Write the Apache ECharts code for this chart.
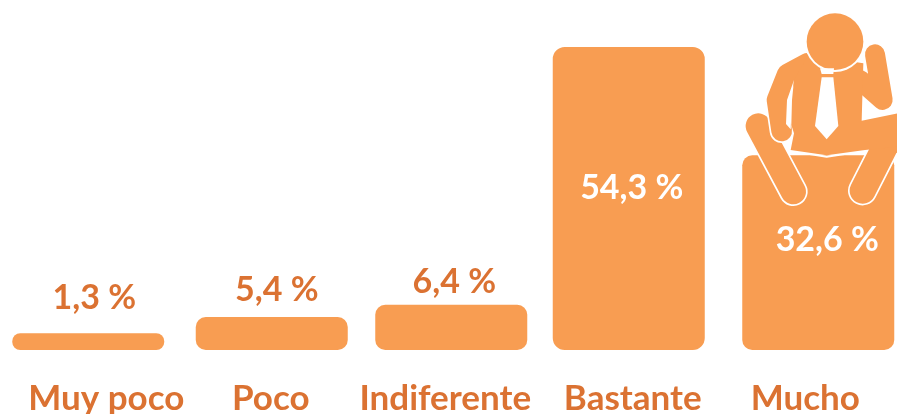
<!DOCTYPE html>
<html><head><meta charset="utf-8">
<style>html,body{margin:0;background:#fff}#c{width:897px;height:414px}</style>
<script src="https://cdn.jsdelivr.net/npm/echarts@6/dist/echarts.min.js"></script></head>
<body><div id="c"></div>
<script>
const categories = ['Muy poco','Poco','Indiferente','Bastante','Mucho'];
const percentages = [1.3,5.4,6.4,54.3,32.6];
// heights of the drawn bars (the original is not to scale)
const barLevels = [3.0,5.9,8.1,54.3,34.9];

// layout only
const barNudge = [0,1,-2,-7,0];
const barRadius = [8,10,10,12,10];
const labelDx = [6,5,3,3,9];
const labelDy = [-35,-27,-23,141,85];
const labelColor = ['#DB7232','#DB7232','#DB7232','#fff','#fff'];
const axisPad = [[0,0,0,36],[0,0,0,0],[0,16,0,0],[0,6,0,0],[0,26,0,0]];
const ORANGE='#F89D52', TEXT='#DB7232';

const chart = echarts.init(document.getElementById('c'),null,{renderer:'canvas'});
const rich={}; axisPad.forEach((p,i)=>{rich['a'+i]={padding:p,color:TEXT,fontFamily:'Lato',fontWeight:'bold',fontSize:35}});

const man = ()=>{
  const stroke=(pts,w,color,z)=>({type:'polyline',z,shape:{points:pts},style:{stroke:color,lineWidth:w,lineCap:'round',lineJoin:'round',fill:null}});
  const poly=(pts,color,z)=>({type:'polygon',z,shape:{points:pts},style:{fill:color}});
  const legL=[[85,378],[190,575]], legR=[[398,572],[470,430],[530,400]];
  const armL=[[232,190],[172,222],[141,300],[155,393]];
  const armR=[[435,163],[458,300],[390,240]];
  return [
    stroke(legL,86,'#fff',10), stroke(legL,76,ORANGE,11),
    stroke(legR,88,'#fff',10), stroke(legR,78,ORANGE,11),
    stroke([[178,452],[290,470],[408,452]],6,'#fff',12),
    stroke([[141,300],[155,393]],72,'#fff',13),
    poly([[395,285],[395,362],[505,340],[505,325],[460,338]],'#fff',13),
    stroke(armL,62,ORANGE,14),
    poly([[192,240],[171,300],[168,372],[182,388],[186,300]],'#fff',15),
    stroke(armR,60,ORANGE,15),
    poly([[192,240],[235,165],[400,190],[395,362],[505,340],[505,440],[405,450],[290,466],[182,450],[192,400],[184,375],[186,300]],ORANGE,16),
    {type:'circle',z:22,shape:{cx:315,cy:125,r:91},style:{fill:'#fff'}},
    {type:'circle',z:23,shape:{cx:315,cy:125,r:85},style:{fill:ORANGE}},
    poly([[270,205],[312,205],[310,222],[275,222]],'#fff',24),
    poly([[275,232],[310,232],[325,378],[290,418],[255,378]],'#fff',24)
  ];
};

chart.setOption({
  animation:false,
  grid:{left:-3,width:912.5,top:0,bottom:64,outerBoundsMode:'none'},
  xAxis:{type:'category',data:categories,axisLine:{show:false},axisTick:{show:false},
    axisLabel:{interval:0,margin:31,hideOverlap:false,rich,
      formatter:(v,i)=>`{a${i}|${v}}`}},
  yAxis:{type:'value',min:0,max:62.72,show:false},
  series:[{type:'custom',z:2,encode:{x:0,y:1},
    data:barLevels.map((v,i)=>[i,v]),
    renderItem(p,api){
      const i=p.dataIndex, base=api.coord([api.value(0),0]), top=api.coord([api.value(0),api.value(1)]);
      const w=152, cx=base[0]+barNudge[i];
      return {type:'group',children:[
        {type:'rect',shape:{x:cx-w/2,y:top[1],width:w,height:base[1]-top[1],r:barRadius[i]},style:{fill:ORANGE}},
        {type:'text',style:{text:percentages[i].toFixed(1).replace('.',',')+' %',x:cx+labelDx[i],y:top[1]+labelDy[i],
          align:'center',verticalAlign:'middle',fill:labelColor[i],font:'bold 34px Lato'}}
      ]};
    }}],
  graphic:[{type:'group',x:730,y:0,scaleX:1/3,scaleY:1/3,children:man(),z:10}]
});
</script></body></html>
